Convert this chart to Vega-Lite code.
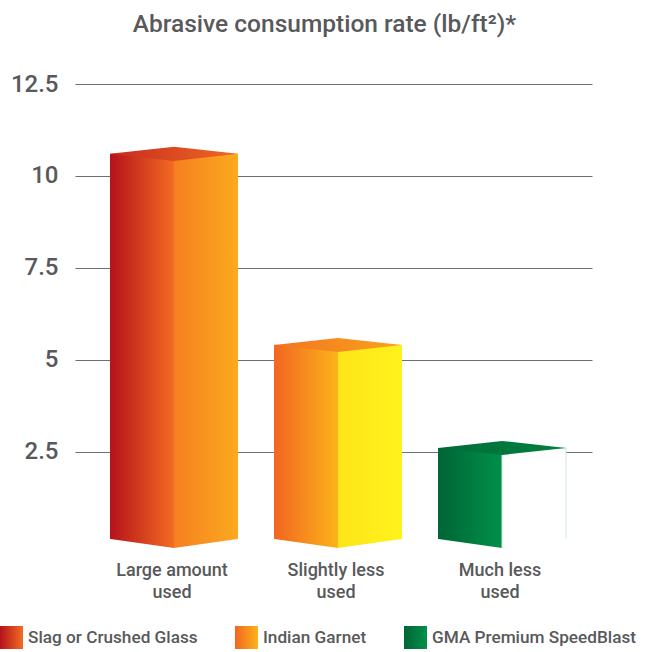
{
  "$schema": "https://vega.github.io/schema/vega-lite/v6.json",
  "autosize": {"type": "none"},
  "width": 517,
  "height": 464,
  "padding": {"left": 75, "top": 84, "right": 53, "bottom": 104},
  "background": "white",
  "title": {
    "text": "Abrasive consumption rate (lb/ft²)*",
    "font": "Roboto",
    "fontSize": 24.5,
    "fontWeight": 500,
    "color": "#58595b",
    "anchor": "middle",
    "dx": -9,
    "offset": 16,
    "baseline": "alphabetic"
  },
  "data": {
    "values": [
      {"category": "Large amount used", "material": "Slag or Crushed Glass", "value": 10.6},
      {"category": "Slightly less used", "material": "Indian Garnet", "value": 5.4},
      {"category": "Much less used", "material": "GMA Premium SpeedBlast", "value": 2.6}
    ]
  },
  "encoding": {
    "x": {
      "field": "category",
      "type": "nominal",
      "sort": null,
      "scale": {"paddingInner": 0.2195, "paddingOuter": 0.186, "align": 0.574},
      "axis": {
        "title": null,
        "labelAngle": 0,
        "domain": false,
        "ticks": false,
        "grid": false,
        "labelPadding": 13,
        "labelFontSize": 18,
        "labelLineHeight": 22,
        "labelOffset": -2,
        "labelExpr": "[slice(datum.label, 0, indexof(datum.label, ' used')), 'used']"
      }
    },
    "y": {
      "field": "value",
      "type": "quantitative",
      "scale": {"domain": [-0.12, 12.5], "nice": false, "zero": false},
      "axis": {
        "title": null,
        "values": [2.5, 5, 7.5, 10, 12.5],
        "format": ".1~f",
        "domain": false,
        "ticks": false,
        "grid": true,
        "gridColor": "#6d6e71",
        "gridWidth": 1,
        "labelPadding": 17,
        "labelFontSize": 24
      }
    }
  },
  "layer": [
    {
      "mark": {"type": "bar"},
      "encoding": {
        "y2": {"datum": -0.12},
        "xOffset": {"datum": "L", "type": "nominal", "scale": {"domain": ["L", "R"], "paddingInner": 0, "paddingOuter": 0}},
        "color": {
          "field": "material",
          "type": "nominal",
          "scale": {
            "domain": ["Slag or Crushed Glass", "Indian Garnet", "GMA Premium SpeedBlast"],
            "range": [
              {"expr": "{gradient: 'linear', x1: 0, y1: 0, x2: 1, y2: 0, stops: [{offset: 0, color: '#b5121b'}, {offset: 1, color: '#f26c22'}]}"},
              {"expr": "{gradient: 'linear', x1: 0, y1: 0, x2: 1, y2: 0, stops: [{offset: 0, color: '#f26522'}, {offset: 1, color: '#fbb41a'}]}"},
              {"expr": "{gradient: 'linear', x1: 0, y1: 0, x2: 1, y2: 0, stops: [{offset: 0, color: '#006535'}, {offset: 1, color: '#00904a'}]}"}
            ]
          },
          "legend": {
            "orient": "none",
            "legendX": -75,
            "legendY": 542,
            "direction": "horizontal",
            "title": null,
            "symbolType": "square",
            "symbolSize": 529,
            "symbolStrokeWidth": 0,
            "symbolOpacity": 1,
            "labelFontSize": 17.2,
            "labelFont": "Roboto",
            "labelFontWeight": 500,
            "labelColor": "#58595b",
            "labelOffset": 5,
            "labelLimit": 400,
            "columnPadding": 37,
            "padding": 0
          }
        }
      }
    },
    {
      "mark": {"type": "bar"},
      "encoding": {
        "y2": {"datum": -0.12},
        "xOffset": {"datum": "R", "type": "nominal", "scale": {"domain": ["L", "R"], "paddingInner": 0, "paddingOuter": 0}},
        "color": {
          "field": "material",
          "type": "nominal",
          "legend": null,
          "scale": {
            "domain": ["Slag or Crushed Glass", "Indian Garnet", "GMA Premium SpeedBlast"],
            "range": [
              {"expr": "{gradient: 'linear', x1: 0, y1: 0, x2: 1, y2: 0, stops: [{offset: 0, color: '#f57f20'}, {offset: 1, color: '#fcaa1f'}]}"},
              {"expr": "{gradient: 'linear', x1: 0, y1: 0, x2: 1, y2: 0, stops: [{offset: 0, color: '#fde51a'}, {offset: 1, color: '#fff21c'}]}"},
              "#ffffff"
            ]
          }
        },
        "stroke": {
          "condition": {"test": "datum.material === 'GMA Premium SpeedBlast'", "value": "#cfe7de"},
          "value": null
        }
      }
    },
    {
      "mark": {"type": "point", "shape": "M-1,0L0,-0.11L1,0L0,0.11Z", "size": 16384, "filled": true, "opacity": 1, "strokeWidth": 0},
      "encoding": {
        "color": {
          "field": "material",
          "type": "nominal",
          "legend": null,
          "scale": {
            "domain": ["Slag or Crushed Glass", "Indian Garnet", "GMA Premium SpeedBlast"],
            "range": [
              {"expr": "{gradient: 'linear', x1: 0, y1: 0, x2: 1, y2: 0, stops: [{offset: 0, color: '#c82a1e'}, {offset: 1, color: '#ef6a22'}]}"},
              {"expr": "{gradient: 'linear', x1: 0, y1: 0, x2: 1, y2: 0, stops: [{offset: 0, color: '#f37321'}, {offset: 1, color: '#f9a41b'}]}"},
              {"expr": "{gradient: 'linear', x1: 0, y1: 0, x2: 1, y2: 0, stops: [{offset: 0, color: '#006d37'}, {offset: 1, color: '#00813f'}]}"}
            ]
          }
        }
      }
    },
    {
      "mark": {"type": "point", "shape": "M-1,-0.14L0,0L1,-0.14L1,0.06L-1,0.06Z", "size": 17000, "filled": true, "opacity": 1, "color": "#ffffff", "strokeWidth": 0},
      "encoding": {
        "y": {
          "datum": -0.12,
          "type": "quantitative",
          "axis": {
            "title": null,
            "values": [2.5, 5, 7.5, 10, 12.5],
            "format": ".1~f",
            "domain": false,
            "ticks": false,
            "grid": true,
            "gridColor": "#6d6e71",
            "gridWidth": 1,
            "labelPadding": 17,
            "labelFontSize": 24
          }
        }
      }
    }
  ],
  "resolve": {"scale": {"color": "independent"}},
  "config": {
    "view": {"stroke": null},
    "axis": {"labelFont": "Roboto", "labelColor": "#58595b", "labelFontWeight": 500}
  }
}
